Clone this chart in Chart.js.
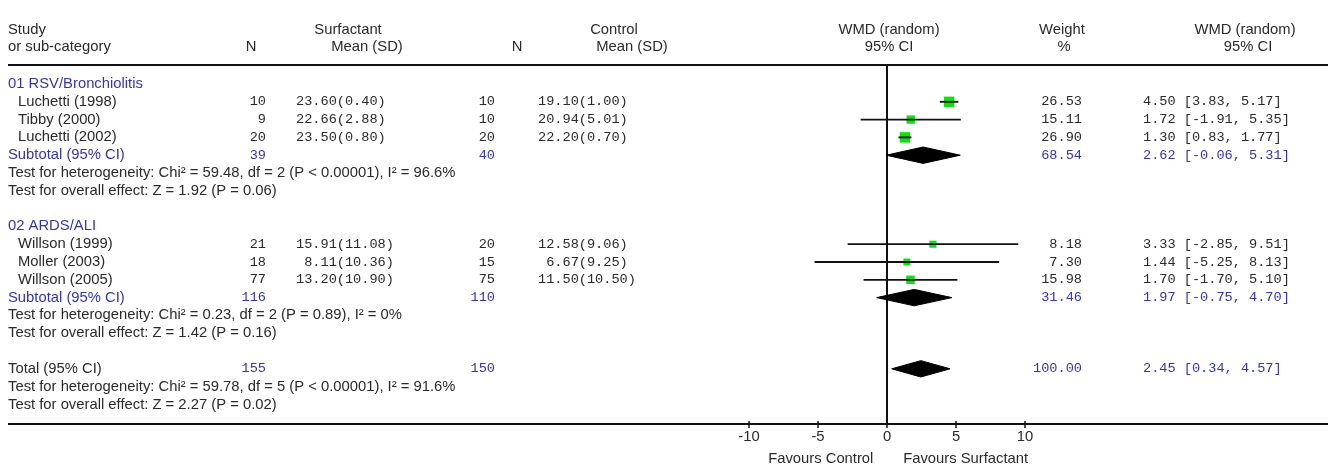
<!DOCTYPE html>
<html>
<head>
<meta charset="utf-8">
<script src="https://cdn.jsdelivr.net/npm/chart.js@4.4.0/dist/chart.umd.min.js"></script>
<style>
  body { margin: 0; background: #fff; }
  #forest { display: block; }
</style>
</head>
<body>
<canvas id="forest" width="1328" height="464"></canvas>
<script>
// single studies
const studies = ['Luchetti (1998)', 'Tibby (2000)', 'Luchetti (2002)', 'Willson (1999)', 'Moller (2003)', 'Willson (2005)'];
const studyRow = [1, 2, 3, 9, 10, 11];
const surfN = [10, 9, 20, 21, 18, 77];
const surfMean = [23.60, 22.66, 23.50, 15.91, 8.11, 13.20];
const surfSD = [0.40, 2.88, 0.80, 11.08, 10.36, 10.90];
const ctrlN = [10, 10, 20, 20, 15, 75];
const ctrlMean = [19.10, 20.94, 22.20, 12.58, 6.67, 11.50];
const ctrlSD = [1.00, 5.01, 0.70, 9.06, 9.25, 10.50];
const weight = [26.53, 15.11, 26.90, 8.18, 7.30, 15.98];
const wmd = [4.50, 1.72, 1.30, 3.33, 1.44, 1.70];
const ciLow = [3.83, -1.91, 0.83, -2.85, -5.25, -1.70];
const ciHigh = [5.17, 5.35, 1.77, 9.51, 8.13, 5.10];

// subtotals + total
const poolLabels = ['Subtotal (95% CI)', 'Subtotal (95% CI)', 'Total (95% CI)'];
const poolRow = [4, 12, 16];
const poolSurfN = [39, 116, 155];
const poolCtrlN = [40, 110, 150];
const poolWeight = [68.54, 31.46, 100.00];
const poolWmd = [2.62, 1.97, 2.45];
const poolLow = [-0.06, -0.75, 0.34];
const poolHigh = [5.31, 4.70, 4.57];

const groupLabels = ['01 RSV/Bronchiolitis', '02 ARDS/ALI'];
const groupRow = [0, 8];

const testLines = [
  'Test for heterogeneity: Chi\u00b2 = 59.48, df = 2 (P < 0.00001), I\u00b2 = 96.6%',
  'Test for overall effect: Z = 1.92 (P = 0.06)',
  'Test for heterogeneity: Chi\u00b2 = 0.23, df = 2 (P = 0.89), I\u00b2 = 0%',
  'Test for overall effect: Z = 1.42 (P = 0.16)',
  'Test for heterogeneity: Chi\u00b2 = 59.78, df = 5 (P < 0.00001), I\u00b2 = 91.6%',
  'Test for overall effect: Z = 2.27 (P = 0.02)'
];
const testRow = [5, 6, 13, 14, 17, 18];

const xTicks = [-10, -5, 0, 5, 10];

const BLUE = '#3535b0';
const INK = '#2a2a2a';
const SANS = '14.8px "Liberation Sans", Arial, sans-serif';
const MONO = '13.6px "Liberation Mono", "Courier New", monospace';

function pad(s, n) { while (s.length < n) s = ' ' + s; return s; }

const datasets = [];

// CI whiskers
studies.forEach((s, i) => {
    datasets.push({
        type: 'line',
        data: [{x: ciLow[i], y: studyRow[i]}, {x: ciHigh[i], y: studyRow[i]}],
        borderColor: '#111',
        borderWidth: 1.8,
        pointRadius: 0,
        order: 0
    });
});

// weight squares
datasets.push({
    type: 'scatter',
    data: wmd.map((v, i) => ({x: v, y: studyRow[i]})),
    pointStyle: 'rect',
    pointRadius: weight.map(w => (5.6 + w * 0.18) / 1.414),
    backgroundColor: '#0fe00f',
    borderWidth: 0,
    order: 1
});

// pooled diamonds
poolWmd.forEach((v, i) => {
    const r = poolRow[i];
    datasets.push({
        type: 'line',
        data: [
            {x: poolLow[i], y: r}, {x: v, y: r - 0.46},
            {x: poolHigh[i], y: r}, {x: v, y: r + 0.46},
            {x: poolLow[i], y: r}
        ],
        borderColor: '#000',
        backgroundColor: '#000',
        borderWidth: 1,
        pointRadius: 0,
        tension: 0,
        fill: 'shape',
        order: 0
    });
});

const forestText = {
    id: 'forestText',
    beforeDatasetsDraw(chart) {
        const {ctx, chartArea, scales: {x}} = chart;
        const x0 = x.getPixelForValue(0);
        ctx.save();
        ctx.strokeStyle = '#111';
        ctx.lineWidth = 2;
        ctx.beginPath();
        ctx.moveTo(x0, chartArea.top);
        ctx.lineTo(x0, chartArea.bottom);
        ctx.stroke();
        ctx.restore();
    },
    afterDraw(chart) {
        const {ctx, chartArea, scales: {x, y}} = chart;
        const W = chart.width;
        ctx.save();

        // header + footer rules
        ctx.strokeStyle = '#111';
        ctx.lineWidth = 2;
        ctx.beginPath();
        ctx.moveTo(8, chartArea.top); ctx.lineTo(W, chartArea.top);
        ctx.moveTo(8, chartArea.bottom); ctx.lineTo(W, chartArea.bottom);
        ctx.stroke();

        // axis ticks
        ctx.lineWidth = 1.5;
        ctx.font = SANS;
        ctx.fillStyle = INK;
        ctx.textAlign = 'center';
        ctx.textBaseline = 'middle';
        xTicks.forEach(t => {
            const px = x.getPixelForValue(t);
            ctx.beginPath();
            ctx.moveTo(px, chartArea.bottom - 3);
            ctx.lineTo(px, chartArea.bottom + 4);
            ctx.stroke();
            ctx.fillText(String(t), px, chartArea.bottom + 13);
        });
        ctx.fillText('Favours Control', x.getPixelForValue(-4.8), chartArea.bottom + 35);
        ctx.fillText('Favours Surfactant', x.getPixelForValue(5.7), chartArea.bottom + 35);

        // column headers
        ctx.textAlign = 'left';
        ctx.fillText('Study', 8, 30);
        ctx.fillText('or sub-category', 8, 47);
        ctx.textAlign = 'center';
        ctx.fillText('Surfactant', 348, 30);
        ctx.fillText('N', 251, 47);
        ctx.fillText('Mean (SD)', 367, 47);
        ctx.fillText('Control', 614, 30);
        ctx.fillText('N', 517, 47);
        ctx.fillText('Mean (SD)', 632, 47);
        ctx.fillText('WMD (random)', 889, 30);
        ctx.fillText('95% CI', 889, 47);
        ctx.fillText('Weight', 1062, 30);
        ctx.fillText('%', 1064, 47);
        ctx.fillText('WMD (random)', 1245, 30);
        ctx.fillText('95% CI', 1248, 47);

        // group labels
        ctx.textAlign = 'left';
        ctx.fillStyle = BLUE;
        groupLabels.forEach((g, i) => ctx.fillText(g, 8, y.getPixelForValue(groupRow[i])));

        // test lines
        ctx.fillStyle = INK;
        testLines.forEach((t, i) => ctx.fillText(t, 8, y.getPixelForValue(testRow[i])));

        // study rows
        studies.forEach((s, i) => {
            const py = y.getPixelForValue(studyRow[i]);
            ctx.font = SANS;
            ctx.fillStyle = INK;
            ctx.textAlign = 'left';
            ctx.fillText(s, 18, py);
            ctx.font = MONO;
            ctx.textAlign = 'right';
            ctx.fillText(String(surfN[i]), 266, py);
            ctx.fillText(String(ctrlN[i]), 495, py);
            ctx.fillText(weight[i].toFixed(2), 1082, py);
            ctx.textAlign = 'left';
            ctx.fillText(pad(surfMean[i].toFixed(2), 5) + '(' + surfSD[i].toFixed(2) + ')', 296, py);
            ctx.fillText(pad(ctrlMean[i].toFixed(2), 5) + '(' + ctrlSD[i].toFixed(2) + ')', 538, py);
            ctx.fillText(wmd[i].toFixed(2) + ' [' + ciLow[i].toFixed(2) + ', ' + ciHigh[i].toFixed(2) + ']', 1143, py);
        });

        // pooled rows
        poolLabels.forEach((lbl, i) => {
            const py = y.getPixelForValue(poolRow[i]);
            ctx.font = SANS;
            ctx.textAlign = 'left';
            ctx.fillStyle = i === 2 ? INK : BLUE;
            ctx.fillText(lbl, 8, py);
            ctx.fillStyle = BLUE;
            ctx.font = MONO;
            ctx.textAlign = 'right';
            ctx.fillText(String(poolSurfN[i]), 266, py);
            ctx.fillText(String(poolCtrlN[i]), 495, py);
            ctx.fillText(poolWeight[i].toFixed(2), 1082, py);
            ctx.textAlign = 'left';
            ctx.fillText(poolWmd[i].toFixed(2) + ' [' + poolLow[i].toFixed(2) + ', ' + poolHigh[i].toFixed(2) + ']', 1143, py);
        });

        ctx.restore();
    }
};

new Chart(document.getElementById('forest').getContext('2d'), {
    type: 'scatter',
    data: { datasets: datasets },
    options: {
        responsive: false,
        animation: false,
        layout: { padding: { left: 749, right: 303, top: 65, bottom: 40 } },
        plugins: {
            legend: { display: false },
            tooltip: { enabled: false }
        },
        scales: {
            x: { type: 'linear', min: -10, max: 10, display: false },
            y: { type: 'linear', min: -1.067, max: 19.1, reverse: true, display: false }
        }
    },
    plugins: [forestText]
});
</script>
</body>
</html>
